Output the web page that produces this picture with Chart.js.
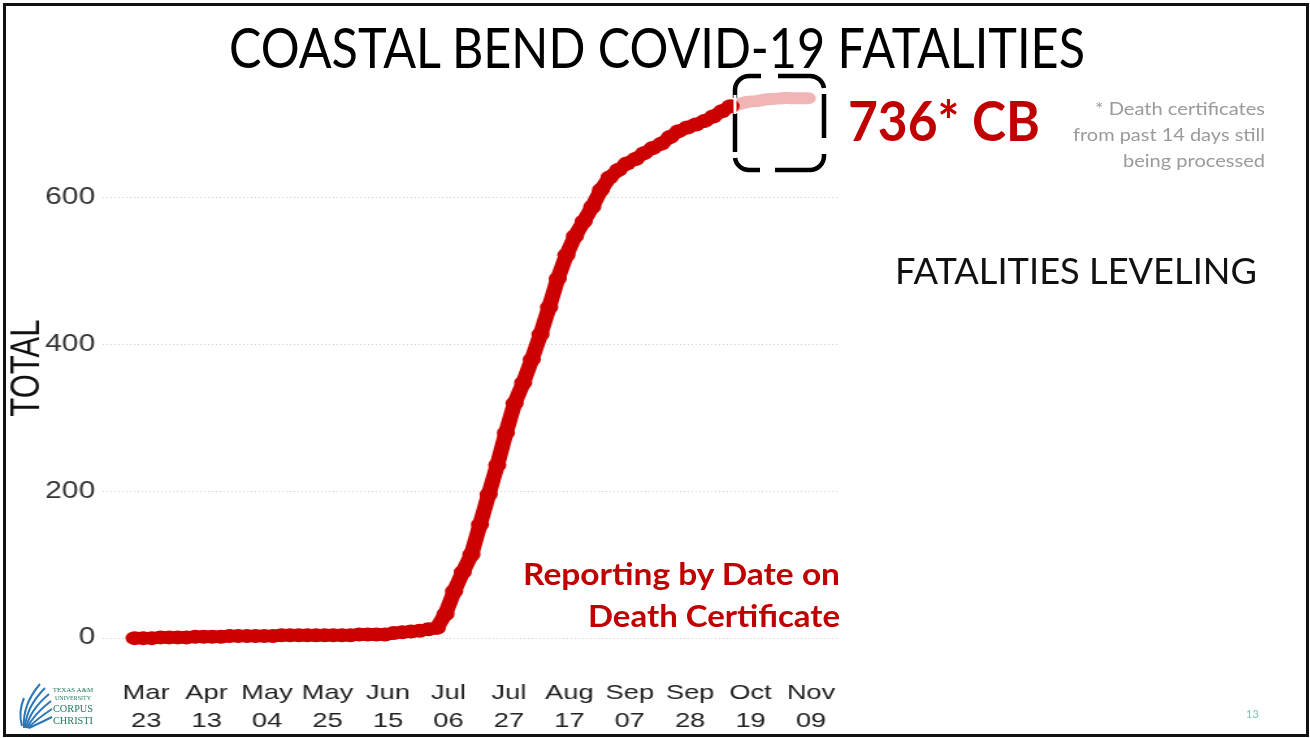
<!DOCTYPE html>
<html>
<head>
<meta charset="utf-8">
<script src="https://cdn.jsdelivr.net/npm/chart.js@4.4.1/dist/chart.umd.min.js"></script>
<style>
  html, body { margin: 0; padding: 0; background: #fff; overflow: hidden; }
  #page { position: relative; width: 1310px; height: 738px; }
  #plot { position: absolute; left: 0; top: 0; width: 654px; height: 738px; transform: scaleX(1.3); transform-origin: 0 0; }
  #over { position: absolute; left: 0; top: 0; pointer-events: none; }
</style>
</head>
<body>
<div id="page">
  <div id="plot"><canvas id="chart" width="654" height="738"></canvas></div>
  <svg id="over" width="1310" height="738" xmlns="http://www.w3.org/2000/svg">
    <rect x="4.5" y="4.5" width="1303" height="731" fill="none" stroke="#111" stroke-width="3"/>
    <text x="229" y="68" textLength="856" lengthAdjust="spacingAndGlyphs" font-family="Lato" font-size="56" fill="#000">COASTAL BEND COVID-19 FATALITIES</text>
    <text x="848" y="141" textLength="192" lengthAdjust="spacingAndGlyphs" font-family="Lato" font-weight="700" font-size="55" fill="#C00000">736* CB</text>
    <g font-family="Lato" font-size="18" fill="#9a9a9a">
      <text x="1095" y="115" textLength="170" lengthAdjust="spacingAndGlyphs">* Death certificates</text>
      <text x="1073" y="141" textLength="192" lengthAdjust="spacingAndGlyphs">from past 14 days still</text>
      <text x="1123" y="167" textLength="142" lengthAdjust="spacingAndGlyphs">being processed</text>
    </g>
    <text x="895" y="284" textLength="362" lengthAdjust="spacingAndGlyphs" font-family="Lato" font-size="37" fill="#111">FATALITIES LEVELING</text>
    <g font-family="Lato" font-weight="700" font-size="30" fill="#C00000">
      <text x="523" y="585" textLength="317" lengthAdjust="spacingAndGlyphs">Reporting by Date on</text>
      <text x="588" y="627" textLength="252" lengthAdjust="spacingAndGlyphs">Death Certificate</text>
    </g>
    <!-- dashed highlight box around the unprocessed days -->
    <g fill="none" stroke="#000" stroke-width="4.5">
      <path d="M735 98 V90 A14 14 0 0 1 749 76 H761"/>
      <path d="M778 76 H810 A14 14 0 0 1 824 88"/>
      <path d="M824 94 V138"/>
      <path d="M824 154 V156 A14 14 0 0 1 810 170 H775"/>
      <path d="M760 170 H749 A14 14 0 0 1 735 158"/>
      <path d="M735 152 V113"/>
    </g>
    <line x1="735" y1="95" x2="735" y2="114" stroke="#fff" stroke-width="3"/>
    <!-- university logo -->
    <g fill="none" stroke="#2b78b8" stroke-width="2">
      <path d="M24 728 Q22 705 40 684"/>
      <path d="M25 728 Q26 707 45 688"/>
      <path d="M26 728 Q30 710 49 694"/>
      <path d="M27 728 Q34 714 51 701"/>
      <path d="M28 728 Q38 718 52 709"/>
      <path d="M29 728 Q42 722 52 717"/>
      <path d="M22 726 Q18 712 24 698"/>
    </g>
    <g font-family="Liberation Serif" fill="#1d7d5c" text-anchor="middle">
      <text x="73" y="692" font-size="7">TEXAS A&amp;M</text>
      <text x="73" y="700" font-size="6">UNIVERSITY</text>
      <text x="73" y="712" font-size="11" textLength="40" lengthAdjust="spacingAndGlyphs">CORPUS</text>
      <text x="73" y="724" font-size="11" textLength="40" lengthAdjust="spacingAndGlyphs">CHRISTI</text>
    </g>
    <text x="1246" y="718" font-family="Lato" font-size="11" fill="#7cc6ad">13</text>
  </svg>
</div>
<script>
// reporting dates (every third day) and cumulative totals
const reportDates = [
  "2020-03-19","2020-03-22","2020-03-25","2020-03-28","2020-03-31","2020-04-03","2020-04-06",
  "2020-04-09","2020-04-12","2020-04-15","2020-04-18","2020-04-21","2020-04-24","2020-04-27",
  "2020-04-30","2020-05-03","2020-05-06","2020-05-09","2020-05-12","2020-05-15","2020-05-18",
  "2020-05-21","2020-05-24","2020-05-27","2020-05-30","2020-06-02","2020-06-05","2020-06-08",
  "2020-06-11","2020-06-14","2020-06-17","2020-06-20","2020-06-23","2020-06-26","2020-06-29",
  "2020-07-02","2020-07-05","2020-07-08","2020-07-11","2020-07-14","2020-07-17","2020-07-20",
  "2020-07-23","2020-07-26","2020-07-29","2020-08-01","2020-08-04","2020-08-07","2020-08-10",
  "2020-08-13","2020-08-16","2020-08-19","2020-08-22","2020-08-25","2020-08-28","2020-08-31",
  "2020-09-03","2020-09-06","2020-09-09","2020-09-12","2020-09-15","2020-09-18","2020-09-21",
  "2020-09-24","2020-09-27","2020-09-30","2020-10-03","2020-10-06","2020-10-09","2020-10-12"
];
const reportTotals = [
  0, 0, 0, 1, 1, 1, 1,
  2, 2, 2, 2, 3, 3, 3,
  3, 3, 3, 4, 4, 4, 4,
  4, 4, 4, 4, 4, 5, 5,
  5, 5, 7, 8, 9, 10, 12,
  14, 33, 64, 90, 114, 155, 196,
  236, 280, 320, 348, 380, 414, 451,
  490, 522, 548, 568, 588, 611, 628,
  638, 647, 653, 661, 668, 674, 683,
  691, 696, 700, 705, 711, 718, 725
];
// last days, death certificates still being processed
const pendingDates = [
  "2020-10-12","2020-10-15","2020-10-18","2020-10-21","2020-10-24",
  "2020-10-27","2020-10-30","2020-11-02","2020-11-05","2020-11-08"
];
const pendingTotals = [725, 728, 731, 732, 734, 735, 736, 736, 736, 736];

const tickDates = [
  "2020-03-23","2020-04-13","2020-05-04","2020-05-25","2020-06-15","2020-07-06",
  "2020-07-27","2020-08-17","2020-09-07","2020-09-28","2020-10-19","2020-11-09"
];
const tickLabels = [
  ["Mar","23"],["Apr","13"],["May","04"],["May","25"],["Jun","15"],["Jul","06"],
  ["Jul","27"],["Aug","17"],["Sep","07"],["Sep","28"],["Oct","19"],["Nov","09"]
];
const yTicks = [0, 200, 400, 600];

const start = Date.parse("2020-03-23");
const dayOf = d => (Date.parse(d) - start) / 86400000;
const pts = (dates, vals) => dates.map((d, i) => ({ x: dayOf(d), y: vals[i] }));

Chart.defaults.font.family = "'Liberation Sans', Arial, sans-serif";

new Chart(document.getElementById("chart"), {
  type: "line",
  data: {
    datasets: [
      {
        label: "Reported",
        data: pts(reportDates, reportTotals),
        borderColor: "#CC0000",
        backgroundColor: "#CC0000",
        borderWidth: 12,
        borderJoinStyle: "round",
        borderCapStyle: "round",
        pointRadius: 7,
        pointBorderWidth: 0,
        tension: 0,
      },
      {
        label: "Pending",
        data: pts(pendingDates, pendingTotals),
        borderColor: "#F1B5B5",
        backgroundColor: "#F1B5B5",
        borderWidth: 12,
        borderCapStyle: "round",
        borderJoinStyle: "round",
        pointRadius: 0,
        tension: 0.3,
      },
    ],
  },
  options: {
    responsive: false,
    animation: false,
    devicePixelRatio: 1,
    layout: { padding: { top: 71, right: 8, left: 0, bottom: 0 } },
    plugins: { legend: { display: false }, tooltip: { enabled: false } },
    scales: {
      x: {
        type: "linear",
        min: -15,
        max: 241,
        grid: { display: false },
        border: { display: false },
        afterBuildTicks: s => { s.ticks = tickDates.map(d => ({ value: dayOf(d) })); },
        afterFit: s => { s.height = 72.7; },
        ticks: {
          autoSkip: false,
          maxRotation: 0,
          padding: 6,
          color: "#222",
          font: { size: 21, lineHeight: 1.33 },
          callback: (v, i) => tickLabels[i],
        },
      },
      y: {
        min: -37,
        max: 773,
        afterBuildTicks: s => { s.ticks = yTicks.map(v => ({ value: v })); },
        afterFit: s => { s.width = 79.2; },
        grid: { color: "#cfcfcf", lineWidth: 1, drawTicks: false },
        border: { display: false, dash: [1, 2] },
        ticks: { padding: 6, color: "#333", font: { size: 23 } },
        title: {
          display: true,
          text: "TOTAL",
          color: "#111",
          font: { size: 31 },
          padding: { top: 3, bottom: 0 },
        },
      },
    },
  },
});
</script>
</body>
</html>
